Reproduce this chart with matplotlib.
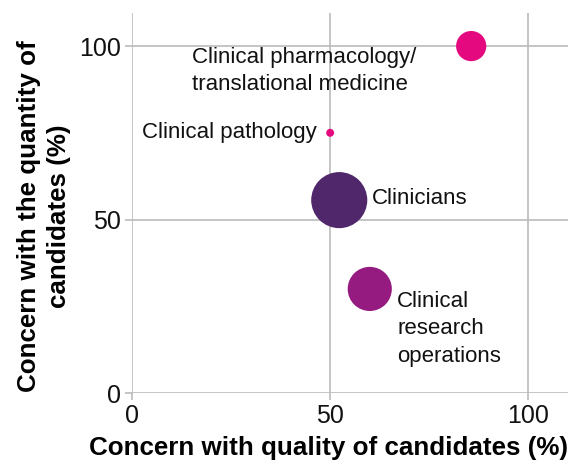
import matplotlib
matplotlib.use("Agg")
import matplotlib.pyplot as plt

# Survey results by function
functions = ["Clinical pharmacology/\ntranslational medicine", "Clinical pathology",
             "Clinicians", "Clinical\nresearch\noperations"]
quality_concern = [85.6, 50, 52.3, 60]
quantity_concern = [100, 75, 55.6, 30]
bubble_size = [29, 2, 100, 62]
colors = ["#E5097F", "#E5097F", "#51276B", "#951B81"]

x_ticks = [0, 50, 100]
y_ticks = [0, 50, 100]

plt.rcParams["font.family"] = ["Liberation Sans", "DejaVu Sans"]

fig = plt.figure(figsize=(5.72, 4.65), dpi=100)
ax = fig.add_axes([0.2308, 0.1548, 0.762, 0.817])

ax.scatter(quality_concern, quantity_concern, s=[b * 16.3 for b in bubble_size],
           c=colors, linewidths=0, zorder=3)

# Label placement: (x, y, horizontal alignment)
label_pos = [(15.2, 92.9, "left"), (46.5, 75, "right"), (60.6, 56.2, "left"), (66.9, 18.5, "left")]
for name, (lx, ly, ha) in zip(functions, label_pos):
    ax.text(lx, ly, name, ha=ha, va="center", fontsize=16, color="#111111",
            linespacing=1.4, zorder=4)

ax.set_xlim(0, 110)
ax.set_ylim(0, 109.5)
ax.set_xticks(x_ticks)
ax.set_yticks(y_ticks)
ax.grid(True, color="#BBBBBB", linewidth=1.2, zorder=0)
ax.set_axisbelow(True)
for sp in ax.spines.values():
    sp.set_visible(False)
ax.tick_params(axis="both", length=5, width=1.2, color="#BBBBBB", labelsize=18,
               labelcolor="#111111", pad=3)

ax.set_xlabel("Concern with quality of candidates (%)", fontsize=18.7,
              fontweight="bold", labelpad=6)
ax.xaxis.label.set_x(0.45)
ax.set_ylabel("Concern with the quantity of\ncandidates (%)", fontsize=18.7,
              fontweight="bold", labelpad=6, linespacing=1.3)
ax.yaxis.label.set_y(0.466)

fig.savefig("out.png", dpi=100, facecolor="white")
